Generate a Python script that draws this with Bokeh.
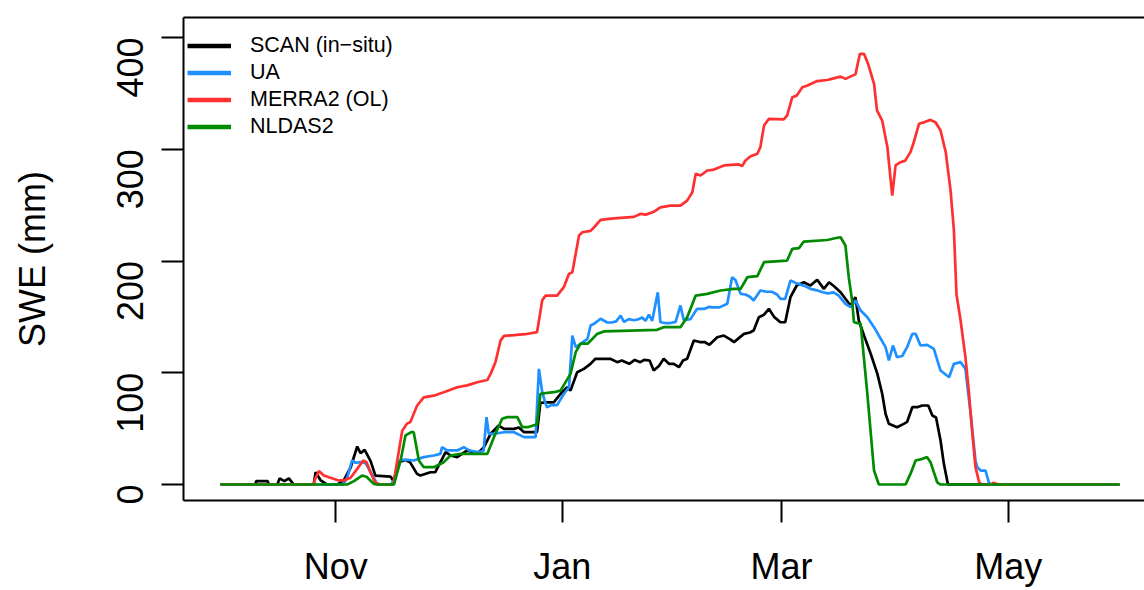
import math
from datetime import datetime, timedelta
from bokeh.plotting import figure
from bokeh.models import (Range1d, FixedTicker, DatetimeTickFormatter, Legend,
                          LegendItem, LinearAxis)
from bokeh.embed import file_html
from bokeh.resources import INLINE

# ---------------- data (days since 1 Oct, SWE in mm) ----------------
SEASON_START = datetime(2016, 10, 1)
month_ticks = [datetime(2016, 11, 1), datetime(2017, 1, 1), datetime(2017, 3, 1), datetime(2017, 5, 1)]
y_ticks = [0, 100, 200, 300, 400]

scan_day = [0, 9.4, 9.6, 12.7, 13, 15.3, 15.9, 17.2, 18.4, 19.7, 25.1, 25.6, 26.9, 28.7, 31.4, 33.2, 35, 36.8,
            37.7, 38.8, 40.4, 41.7, 45.8, 46.6, 48, 49.8, 51, 52.9, 53.8, 56.5, 57.8, 59.2, 60.6, 61.9, 63.7,
            66.4, 69.1, 70.9, 72.7, 74.9, 76.3, 79, 80.3, 81.7, 85.2, 86.1, 87.9, 89.7, 91.5, 93.3, 94.2, 96,
            97.8, 99.6, 100.9, 104.9, 106.8, 108, 110, 111.5, 113, 114, 115.5, 116.6, 118, 119.3, 120.7, 122,
            123.4, 124.5, 125.6, 127.4, 129, 130.3, 131.6, 133.7, 135.5, 137.3, 138.2, 140.9, 142.5, 143.5,
            144.9, 146.3, 147.6, 149, 150.7, 152, 153.4, 155.1, 157, 158.8, 160.6, 162.4, 163.8, 165.3, 166.9,
            168.2, 169.6, 170.9, 171.8, 173.2, 175, 176.8, 178.1, 179, 179.9, 182.1, 183.9, 184.8, 186.2,
            187.5, 188.9, 190.5, 191.6, 192.6, 193.8, 194.7, 195.8, 242]
scan_swe = [0, 0, 3, 3, 0, 0, 5.5, 3, 5.5, 0, 0, 11, 4, 0, 0, 4, 15, 34,
            28, 31, 21, 8, 7, 3, 20, 22, 20, 9.5, 8, 11, 11, 20, 29, 26, 24.5,
            30.5, 27.5, 33.4, 45.4, 52.8, 49.8, 49.8, 51, 46.8, 46.8, 73, 73.5, 73.5, 81, 87, 84, 100.5,
            103.5, 108, 112.5, 112.5, 109.5, 111, 108, 111.5, 109.5, 111.5, 111, 102, 106, 112.5, 108, 108,
            105, 111, 112.5, 128.9, 127.5, 127.5, 125, 131.8, 133.3, 129.7, 127.4, 134.8, 136, 137.8,
            149.7, 152, 157.2, 150, 145.2, 145.2, 167.6, 178.1, 181, 178, 183.2, 175.1, 181, 177, 172,
            166.2, 160.2, 167.6, 146.8, 133.3, 117, 99, 81.2, 63.3, 54.3, 51.3, 54.3, 56, 69.2,
            69.2, 70.7, 70.7, 61.7, 60, 39.4, 18.5, 0, 0]

ua_day = [0, 33, 34.1, 35.4, 36.4, 37.7, 39.1, 41.3, 42.2, 45.8, 46.7, 48.5, 50.2, 52, 54.7, 57.4, 59.2, 59.6,
          61, 63.7, 65.5, 66.9, 69.1, 70.8, 71.6, 72.2, 73.6, 76.3, 79, 81.7, 84.8, 85.7, 86.6, 87.5, 87.9,
          89, 90.6, 92.4, 93.8, 94.7, 95.6, 97, 98.8, 99.6, 100.5, 102.3, 104.1, 105.3, 106.5, 107.7, 108.6,
          109.9, 111.3, 112.6, 113.5, 114.4, 115.3, 116.2, 117.7, 118.4, 119.7, 121.1, 122.5, 123.8, 124.7,
          126.5, 127.4, 128.3, 130.3, 131.6, 132.5, 134.3, 136.4, 137.7, 138.6, 140, 141.3, 142.5, 143.5,
          145.3, 147, 148.4, 149.8, 150.7, 152, 153.4, 155.1, 157, 158.8, 160.3, 162.1, 163.5, 165, 166.4,
          168.2, 169.6, 170.9, 172.3, 174.1, 175.9, 177.7, 179, 179.9, 181, 182.1, 183.5, 184.8, 186.2,
          187.1, 188.4, 190.2, 192, 193.8, 196.1, 197.4, 199.2, 200.5, 201.9, 203.2, 203.7, 204.6, 205.9,
          206.8, 207.3, 242]
ua_swe = [0, 0, 6, 21.5, 19.5, 20, 19, 6, 0, 0, 4, 22, 22, 21.5, 24.5, 26, 27.4, 33.4,
          30.5, 30.5, 33.4, 30.5, 29, 30, 60.3, 45.4, 45.4, 46.8, 46.8, 42.4, 42.4, 103.5, 82.6, 72.2, 69,
          71, 71, 81, 87, 133.3, 122.9, 126, 130.4, 142.3, 143.8, 148.3, 145, 145, 146, 151.2, 145.5,
          148, 147, 148, 149.5, 146.5, 152, 146.5, 172, 145.2, 144.5, 144.5, 145.5, 160.2, 147,
          148, 152.7, 157.2, 157.2, 159, 158.5, 158.5, 161.7, 185.5, 183, 170.6, 170, 168, 164.7,
          173.6, 172.5, 172.5, 170, 166.2, 166.2, 182.5, 180, 178, 175.1, 174, 172, 171, 172, 169,
          161.7, 158.7, 164.7, 155.7, 149.7, 140.8, 130.4, 122.9, 111, 124.4, 113.9, 115, 122.9, 134.8,
          134.8, 124.4, 125, 121.4, 102, 96, 108, 109.5, 103.5, 63.3, 21.5, 15.5, 12.5, 12.5,
          2, 0, 0]

merra_day = [0, 25, 25.6, 26.5, 27.8, 29.6, 31.4, 33.2, 35, 36.8, 38.4, 39.3, 40.4, 41.7, 43.1, 46.5, 47.5,
             48.9, 50.2, 51.1, 52.9, 54.7, 57.4, 60.1, 63.7, 66.4, 69.1, 71.8, 72.7, 74, 75.4, 76.3, 79, 82,
             85.2, 86.6, 87.5, 90.6, 92.4, 93.8, 94.7, 96.5, 97.4, 99.6, 100.5, 102.3, 105.9, 111.3, 113.1,
             114.5, 116.6, 118.4, 121.1, 123.8, 125.6, 127, 127.9, 129.2, 131, 132.5, 135.5, 139.5, 140.4,
             141.3, 142.7, 144.5, 145.3, 146.3, 147.6, 151.6, 152.5, 153.9, 155.1, 156.6, 158, 160.6, 163.3,
             164.5, 166.9, 168.2, 169.5, 170.9, 172.1, 173.2, 174.3, 175.9, 176.7, 178.1, 179.5, 180.8,
             181.7, 183, 184.3, 185.7, 186.6, 188, 189.5, 191.1, 192.5, 193.8, 195.2, 196.5, 197.4, 198.1,
             199.2, 200.5, 201.4, 202.3, 203.2, 204.2, 205, 207.5, 208, 209.5, 242]
merra_swe = [0, 0, 6, 12, 8, 6, 4, 3.5, 6, 14, 21.5, 20, 10.5, 1.5, 0, 0, 20,
             48, 54.5, 56, 70.5, 78, 79.5, 82.6, 87, 88.7, 91.5, 93.5, 99, 109.5, 129, 133, 133.7, 134.5,
             136.3, 165, 169, 169, 176.6, 188.5, 190, 222.8, 225.7, 227, 230, 236.8, 238.2, 239.5, 242.2,
             241.5, 244, 248, 249.5, 249.5, 254, 261.6, 278, 276.5, 281, 281.5, 285.5, 286.4, 285,
             290, 293.8, 296, 301.8, 321.3, 327.2, 326.8, 330.2, 346.6, 348, 355.5, 357, 361, 362,
             363, 365, 363, 365, 367, 385.4, 385.4, 376.4, 358.6, 334.7, 325.7, 301.8, 258.6,
             285.5, 288.4, 289.8, 297.4, 306.3, 322.8, 324.3, 326.3, 324, 316.8, 297.4, 263, 227.3, 170,
             146.8, 113.9, 84.1, 48.3, 15.5, 2, 0, 0, 1.5, 0, 0]

nldas_day = [0, 34.1, 35.9, 38.1, 39.3, 41.3, 42, 46.7, 48.5, 49.8, 51.3, 52, 53.4, 54.7, 57.4, 60.1, 61.9,
             64.6, 71.8, 73.6, 75.8, 77.2, 79.9, 81.2, 82.7, 85.2, 86.1, 89.7, 91.5, 94.2, 95.6, 96.9, 98.8,
             101.4, 103.2, 108, 117.5, 119.3, 123.8, 125.6, 126.5, 127.9, 131, 134.6, 138.2, 140, 141.8,
             144.5, 146.3, 152.5, 153.9, 155.7, 157, 163.3, 166, 166.9, 168.2, 169.1, 170, 170.5, 172.3,
             174.1, 175.9, 177.2, 184.4, 185.7, 187.1, 188.9, 190.2, 191.1, 192.9, 193.8, 242]
nldas_swe = [0, 0, 3, 8, 7, 0.5, 0, 0, 22, 44, 46.8, 46.8, 21.5, 15.5, 15.5, 20, 26,
             27.4, 27.4, 42.4, 58.8, 60.3, 60.3, 51.3, 51.3, 54, 81.2, 82.6, 84, 99, 118.4, 126, 126,
             134.8, 137, 137.5, 138.4, 140.8, 140.8, 149.7, 157.2, 169.1, 170.6, 173.6, 175.1, 175.1, 185.5,
             186.5, 199, 200.4, 210.9, 211.5, 217.4, 218.8, 220.8, 221.3, 213.9, 185.5, 164.7, 145.2, 143.8,
             81.2, 12.5, 0, 0, 9.5, 21.5, 23, 24.5, 20, 2, 0, 0]

series_labels = ["SCAN (in\u2212situ)", "UA", "MERRA2 (OL)", "NLDAS2"]
series_colors = ["black", "#1E90FF", "#FF3030", "#008B00"]

# ---------------- helpers ----------------
def to_dates(days):
    return [SEASON_START + timedelta(days=d) for d in days]

def ms(dt):
    return (dt - datetime(1970, 1, 1)).total_seconds() * 1000.0

FONT = "Liberation Sans"

p = figure(width=1144, height=590, x_axis_type="datetime",
           output_backend="svg", toolbar_location=None,
           x_range=Range1d(ms(SEASON_START - timedelta(days=9.96)), ms(SEASON_START + timedelta(days=248.7))),
           y_range=Range1d(-14.3, 417.9),
           min_border_left=183, min_border_right=0, min_border_top=17, min_border_bottom=90)
p.outline_line_color = None
p.xgrid.grid_line_color = None
p.ygrid.grid_line_color = None
p.background_fill_color = "white"
p.border_fill_color = "white"

# x axis
xa = p.xaxis[0]
xa.ticker = FixedTicker(ticks=[ms(t) for t in month_ticks])
fmt = "%b"
xa.formatter = DatetimeTickFormatter(microseconds=fmt, milliseconds=fmt, seconds=fmt, minsec=fmt,
                                     minutes=fmt, hourmin=fmt, hours=fmt, days=fmt, months=fmt, years=fmt)
# y axis
ya = p.yaxis[0]
ya.ticker = FixedTicker(ticks=y_ticks)
ya.major_label_orientation = math.pi / 2
ya.axis_label = "SWE (mm)"

for ax in (xa, ya):
    ax.axis_line_color = "black"
    ax.axis_line_width = 2
    ax.major_tick_line_color = "black"
    ax.major_tick_line_width = 2
    ax.major_tick_out = 22
    ax.major_tick_in = 0
    ax.minor_tick_line_color = None
    ax.major_label_text_font = FONT
    ax.major_label_text_font_size = "36px"
    ax.major_label_text_color = "black"
    ax.axis_label_text_font = FONT
    ax.axis_label_text_font_size = "36px"
    ax.axis_label_text_font_style = "normal"
    ax.axis_label_text_color = "black"
xa.major_label_standoff = 23
xa.major_label_text_line_height = 1.0
ya.major_label_standoff = 31
ya.axis_label_standoff = 49

top = LinearAxis(ticker=FixedTicker(ticks=[]), axis_line_color="black", axis_line_width=2,
                 major_tick_line_color=None, minor_tick_line_color=None,
                 major_label_text_font_size="0px")
p.add_layout(top, "above")

# data lines
all_days = [scan_day, ua_day, merra_day, nldas_day]
all_swe = [scan_swe, ua_swe, merra_swe, nldas_swe]
for days, swe, col in zip(all_days, all_swe, series_colors):
    p.line(to_dates(days), swe, line_color=col, line_width=2.7)

# legend swatches (thicker lines, no visible data)
items = []
for lab, col in zip(series_labels, series_colors):
    r = p.line(x=[SEASON_START], y=[float("nan")], line_color=col, line_width=4.5)
    items.append(LegendItem(label=lab, renderers=[r]))

legend = Legend(items=items, location=(4, 361), glyph_width=44, glyph_height=25, label_height=25,
                spacing=2, padding=0, margin=0, label_standoff=19,
                label_text_font=FONT, label_text_font_size="21.5px", label_text_color="black",
                border_line_color=None, background_fill_alpha=0)
p.add_layout(legend)

open("out.html", "w").write(file_html(p, INLINE))
